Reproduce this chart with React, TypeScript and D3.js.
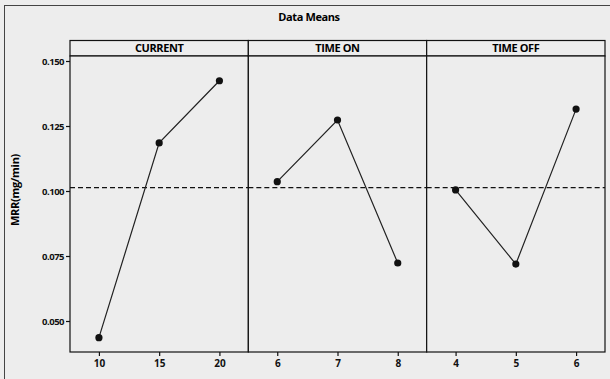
import { useEffect, useRef } from 'react'
import * as d3 from 'd3'

const panelNames = ["CURRENT", "TIME ON", "TIME OFF"]
const currentLevels = ["10", "15", "20"]
const timeOnLevels = ["6", "7", "8"]
const timeOffLevels = ["4", "5", "6"]
const currentMeans = [0.0436, 0.1185, 0.1424]
const timeOnMeans = [0.1036, 0.1273, 0.0723]
const timeOffMeans = [0.1004, 0.0719, 0.1315]
const grandMean = 0.1013
const yTicks = [0.05, 0.075, 0.1, 0.125, 0.15]

function App() {
    const ref = useRef<SVGSVGElement>(null)

    useEffect(() => {
        const svg = d3.select(ref.current)
        svg.selectAll("*").remove()

        const width = 610
        const height = 379
        const left = 70
        const right = 605
        const top = 56
        const bottom = 352
        const stripTop = 40.5
        const font = "'Open Sans', 'DejaVu Sans', sans-serif"
        const bg = "#ededed"

        svg.append("rect")
            .attr("width", width)
            .attr("height", height)
            .attr("fill", bg)

        // outer frame, cut off at bottom and right like the source picture
        svg.append("rect")
            .attr("x", 4.5)
            .attr("y", 5.5)
            .attr("width", 640)
            .attr("height", 400)
            .attr("fill", "none")
            .attr("stroke", "#444")
            .attr("stroke-width", 1)

        svg.append("text")
            .attr("x", 309)
            .attr("y", 21)
            .attr("text-anchor", "middle")
            .style("font-family", font)
            .style("font-weight", 700)
            .style("font-size", "11px")
            .style("letter-spacing", "-0.4px")
            .text("Data Means")

        const yScale = d3.scaleLinear()
            .domain([0.05, 0.15])
            .range([321, 61])

        const panels = d3.scaleBand()
            .domain(panelNames)
            .range([left, right])

        const levels = [currentLevels, timeOnLevels, timeOffLevels]
        const means = [currentMeans, timeOnMeans, timeOffMeans]

        panelNames.forEach((name, i) => {
            const x0 = panels(name) as number
            const w = panels.bandwidth()
            const xScale = d3.scalePoint()
                .domain(levels[i])
                .range([x0, x0 + w])
                .padding(0.48)

            const g = svg.append("g")

            // strip
            g.append("rect")
                .attr("x", x0)
                .attr("y", stripTop)
                .attr("width", w)
                .attr("height", top - stripTop)
                .attr("fill", bg)
                .attr("stroke", "#111")
                .attr("stroke-width", 1.2)

            g.append("text")
                .attr("x", x0 + w / 2)
                .attr("y", stripTop + 11.5)
                .attr("text-anchor", "middle")
                .style("font-family", font)
                .style("font-weight", 700)
                .style("font-size", "11px")
                .style("letter-spacing", "-0.4px")
                .text(name)

            g.append("rect")
                .attr("x", x0)
                .attr("y", top)
                .attr("width", w)
                .attr("height", bottom - top)
                .attr("fill", bg)
                .attr("stroke", "#111")
                .attr("stroke-width", 1.2)

            // reference line
            g.append("line")
                .attr("x1", x0)
                .attr("x2", x0 + w)
                .attr("y1", yScale(grandMean))
                .attr("y2", yScale(grandMean))
                .attr("stroke", "#111")
                .attr("stroke-width", 1.2)
                .attr("stroke-dasharray", "5,3")

            const pts = levels[i].map((l, j) => ({ x: l, y: means[i][j] }))

            const line = d3.line<{ x: string, y: number }>()
                .x(d => xScale(d.x) as number)
                .y(d => yScale(d.y))

            g.append("path")
                .datum(pts)
                .attr("d", line)
                .attr("fill", "none")
                .attr("stroke", "#222")
                .attr("stroke-width", 1.2)

            g.selectAll("circle.pt")
                .data(pts)
                .enter()
                .append("circle")
                .attr("class", "pt")
                .attr("cx", d => xScale(d.x) as number)
                .attr("cy", d => yScale(d.y))
                .attr("r", 3.6)
                .attr("fill", "#111")

            const xAxis = g.append("g")
                .attr("transform", `translate(0, ${bottom})`)
                .call(d3.axisBottom(xScale).tickSize(4).tickPadding(4))
            xAxis.select(".domain").remove()
            xAxis.selectAll("line").attr("stroke", "#111").attr("stroke-width", 1.2)
            xAxis.selectAll("text")
                .style("font-family", font)
                .style("font-weight", 700)
                .style("font-size", "10px")
                .attr("fill", "#111")
        })

        const yAxis = svg.append("g")
            .attr("transform", `translate(${left}, 0)`)
            .call(d3.axisLeft(yScale).tickValues(yTicks).tickFormat(d3.format(".3f")).tickSize(4).tickPadding(2))
        yAxis.select(".domain").remove()
        yAxis.selectAll("line").attr("stroke", "#111").attr("stroke-width", 1.2)
        yAxis.selectAll("text")
            .style("font-family", font)
            .style("font-weight", 700)
            .style("font-size", "9.5px")
            .style("letter-spacing", "-0.5px")
            .attr("fill", "#111")

        svg.append("text")
            .attr("transform", `translate(19, 190) rotate(-90)`)
            .attr("text-anchor", "middle")
            .style("font-family", font)
            .style("font-weight", 700)
            .style("font-size", "11px")
            .style("letter-spacing", "-0.3px")
            .text("MRR(mg/min)")
    })

    return (
        <svg ref={ref} width={610} height={379} style={{ position: "absolute", left: 0, top: 0 }} />
    )
}

export default App
